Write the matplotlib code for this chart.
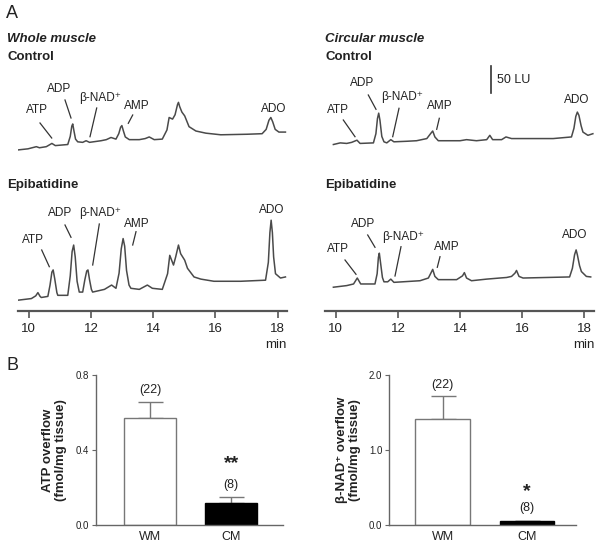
import numpy as np
import matplotlib
matplotlib.use("Agg")
from matplotlib import pyplot as plt
from matplotlib.lines import Line2D

plt.rcParams['font.family'] = ['Liberation Sans', 'DejaVu Sans']

# chromatogram traces: time (min) and fluorescence above trace start (LU)
lc_t = [9.65, 9.97, 10.24, 10.34, 10.56, 10.74, 10.85, 11.25, 11.33, 11.38, 11.41, 11.45,
        11.50, 11.57, 11.73, 11.84, 11.95, 12.32, 12.49, 12.64, 12.80, 12.89, 12.95, 12.99,
        13.04, 13.10, 13.23, 13.55, 13.74, 13.87, 14.03, 14.29, 14.44, 14.51, 14.62, 14.70,
        14.78, 14.81, 14.85, 14.92, 15.01, 15.15, 15.37, 15.69, 16.17, 17.02, 17.50, 17.63,
        17.72, 17.78, 17.84, 17.92, 18.04, 18.25]
lc_lu = [0, 2, 6, 4, 6, 12, 8, 10, 25, 44, 48, 35,
         20, 15, 14, 17, 14, 17, 19, 23, 20, 30, 42, 45,
         35, 24, 19, 19, 21, 24, 19, 20, 37, 60, 57, 65,
         84, 88, 80, 70, 63, 43, 35, 31, 28, 29, 30, 38,
         55, 60, 52, 38, 33, 33]

le_t = [9.65, 10.08, 10.22, 10.29, 10.36, 10.40, 10.61, 10.68, 10.74, 10.78, 10.83, 10.90,
        10.93, 11.25, 11.33, 11.39, 11.44, 11.49, 11.55, 11.62, 11.73, 11.80, 11.86, 11.90,
        11.95, 12.01, 12.05, 12.43, 12.66, 12.80, 12.90, 12.97, 13.03, 13.08, 13.14, 13.22,
        13.28, 13.55, 13.81, 13.97, 14.29, 14.46, 14.53, 14.65, 14.72, 14.81, 14.88, 15.01,
        15.10, 15.31, 15.53, 15.95, 16.81, 17.61, 17.70, 17.75, 17.79, 17.83, 17.87, 17.93,
        18.09, 18.25]
le_lu = [0, 3, 8, 14, 7, 5, 7, 28, 52, 56, 40, 14,
         9, 9, 45, 90, 102, 80, 35, 15, 15, 38, 54, 56,
         38, 20, 15, 20, 28, 22, 50, 95, 114, 100, 55, 28,
         22, 20, 28, 22, 20, 49, 83, 65, 80, 102, 86, 74,
         59, 43, 39, 35, 35, 37, 70, 125, 148, 125, 80, 49,
         41, 43]

rc_t = [9.92, 10.14, 10.35, 10.51, 10.68, 10.78, 11.21, 11.29, 11.34, 11.38, 11.42, 11.48,
        11.55, 11.64, 11.77, 11.87, 12.28, 12.60, 12.93, 13.05, 13.12, 13.19, 13.30, 14.00,
        14.21, 14.53, 14.86, 14.96, 15.05, 15.34, 15.48, 15.66, 17.00, 17.59, 17.67, 17.73,
        17.78, 17.83, 17.90, 17.96, 18.12, 18.28]
rc_lu = [0, 3, 2, 4, 8, 2, 3, 20, 48, 58, 45, 15,
         5, 3, 9, 5, 6, 7, 11, 20, 25, 14, 7, 7,
         9, 7, 9, 17, 9, 9, 14, 11, 11, 14, 30, 52,
         60, 54, 35, 23, 17, 20]

re_t = [9.92, 10.35, 10.57, 10.69, 10.80, 11.26, 11.33, 11.37, 11.40, 11.44, 11.50, 11.55,
        11.67, 11.77, 11.87, 12.71, 12.98, 13.06, 13.12, 13.19, 13.30, 13.89, 14.08, 14.14,
        14.21, 14.37, 14.86, 15.28, 15.50, 15.66, 15.77, 15.82, 15.90, 16.03, 17.53, 17.62,
        17.69, 17.74, 17.78, 17.85, 17.91, 18.07, 18.21]
re_lu = [0, 3, 6, 17, 6, 6, 25, 55, 63, 45, 18, 10,
         10, 15, 9, 12, 17, 26, 33, 20, 14, 14, 21, 27,
         17, 12, 15, 17, 18, 20, 26, 31, 20, 17, 19, 35,
         60, 69, 60, 40, 29, 20, 19]

time_ticks = [10, 12, 14, 16, 18]

# overflow bar data (mean, SEM, n)
groups = ["WM", "CM"]
atp_mean = [0.57, 0.12]
atp_sem = [0.085, 0.03]
nad_mean = [1.41, 0.05]
nad_sem = [0.31, 0.01]
n_labels = ["(22)", "(8)"]

W, H = 600, 547
fig = plt.figure(figsize=(6, 5.47), dpi=100)
TXT = '#222222'
GRAY = '#555555'
TRACE = '#4a4a4a'


def px(x, y):
    return x / W, 1 - y / H


def ftext(x, y, s, **kw):
    kw.setdefault('color', TXT)
    fig.text(*px(x, y), s, **kw)


def fline(x0, y0, x1, y1):
    a, b = px(x0, y0)
    c, d = px(x1, y1)
    fig.add_artist(Line2D([a, c], [b, d], color='#333333', lw=0.9))


LU_PER_PX = 1.85


def chrom_axes(left_px, width_px):
    ax = fig.add_axes([left_px / W, (H - 311) / H, width_px / W, 251 / H])
    ax.set_xlim(9.65, 18.3)
    ax.set_ylim(0, 251 * LU_PER_PX)
    for s in ['top', 'left', 'right']:
        ax.spines[s].set_visible(False)
    ax.spines['bottom'].set_color(GRAY)
    ax.spines['bottom'].set_linewidth(1.6)
    ax.set_yticks([])
    ax.set_xticks(time_ticks)
    ax.tick_params(axis='x', direction='out', length=5, width=1.2, color=GRAY,
                   labelsize=9.5, labelcolor=TXT, pad=4)
    ax.patch.set_alpha(0)
    return ax


axl = chrom_axes(18, 269)
axl.plot(lc_t, np.array(lc_lu) + 298, color=TRACE, lw=1.1)
axl.plot(le_t, np.array(le_lu) + 20, color=TRACE, lw=1.1)

axr = chrom_axes(325, 268.5)
axr.plot(rc_t, np.array(rc_lu) + 308, color=TRACE, lw=1.1)
axr.plot(re_t, np.array(re_lu) + 44, color=TRACE, lw=1.1)
# 50 LU scale bar
axr.plot([15.0, 15.0], [403, 453], color='#333333', lw=1.2, clip_on=False)
ftext(497, 80, "50 LU", fontsize=9, ha='left', va='center')

ftext(287, 345, "min", fontsize=9.5, ha='right', va='center')
ftext(595, 345, "min", fontsize=9.5, ha='right', va='center')

# panel headers
ftext(6, 14, "A", fontsize=13, ha='left', va='center')
ftext(6, 366, "B", fontsize=13, ha='left', va='center')
ftext(7, 39, "Whole muscle", fontsize=9.5, weight='bold', style='italic', ha='left', va='center')
ftext(7, 57, "Control", fontsize=9.5, weight='bold', ha='left', va='center')
ftext(325, 39, "Circular muscle", fontsize=9.5, weight='bold', style='italic', ha='left', va='center')
ftext(325, 57, "Control", fontsize=9.5, weight='bold', ha='left', va='center')
ftext(7, 185, "Epibatidine", fontsize=9.5, weight='bold', ha='left', va='center')
ftext(325, 185, "Epibatidine", fontsize=9.5, weight='bold', ha='left', va='center')

NAD = "β-NAD⁺"
peak_labels = [
    ("ATP", (36.7, 110), (40, 123), (51.7, 138)),
    ("ADP", (59, 89), (65, 100), (71, 118)),
    (NAD, (100, 98), (96.7, 108), (90, 136.7)),
    ("AMP", (136.7, 106), (132.7, 115), (128.3, 123.3)),
    ("ADO", (273.3, 109), None, None),
    ("ATP", (33.3, 240), (41.7, 250), (49.3, 266.7)),
    ("ADP", (60, 212.7), (65, 225), (71, 237.3)),
    (NAD, (100, 213.3), (99.3, 224), (92.7, 265)),
    ("AMP", (136.7, 224), (136, 231.7), (132.7, 245)),
    ("ADO", (271.7, 210), None, None),
    ("ATP", (338.3, 110), (343.3, 120), (355, 136.7)),
    ("ADP", (362.3, 83.3), (368.3, 95), (376, 109.3)),
    (NAD, (401.7, 96.7), (399, 108.3), (392.7, 136.7)),
    ("AMP", (440, 106), (439.3, 118.3), (436.7, 129.3)),
    ("ADO", (576.7, 100), None, None),
    ("ATP", (338.3, 249.3), (345, 260), (356, 274.3)),
    ("ADP", (363.3, 224), (367.7, 235), (375, 247.3)),
    (NAD, (403.3, 237.3), (401, 246.7), (395, 276)),
    ("AMP", (446.7, 246.7), (440, 256.7), (437.3, 267.3)),
    ("ADO", (575, 235), None, None),
]
for lab, (tx, ty), p0, p1 in peak_labels:
    ftext(tx, ty, lab, fontsize=8.5, ha='center', va='center')
    if p0 is not None:
        fline(p0[0], p0[1], p1[0], p1[1])


def bar_axes(left_px, width_px, means, sems, ymax, yticks, ylabel, star, n_pos, star_pos, xlim):
    ax = fig.add_axes([left_px / W, (H - 525) / H, width_px / W, 150 / H])
    x = np.arange(len(groups))
    ax.bar(x, means, width=0.65, color=['white', 'black'], edgecolor=['#777777', 'black'],
           linewidth=1.0, zorder=2)
    ax.errorbar(x, means, yerr=[[0, 0], sems], fmt='none', ecolor='#777777',
                elinewidth=1.0, capsize=9, capthick=1.0, zorder=1)
    ax.set_xlim(*xlim)
    ax.set_ylim(0, ymax)
    ax.set_yticks(yticks)
    ax.set_yticklabels([f"{v:.1f}" for v in yticks])
    ax.set_xticks(x)
    ax.set_xticklabels(groups)
    for s in ['top', 'right']:
        ax.spines[s].set_visible(False)
    for s in ['left', 'bottom']:
        ax.spines[s].set_color('#666666')
        ax.spines[s].set_linewidth(1.0)
    ax.tick_params(axis='y', direction='out', length=3, width=0.8, color='#666666',
                   labelsize=7, labelcolor=TXT, pad=2)
    ax.tick_params(axis='x', length=0, labelsize=9, labelcolor=TXT, pad=4)
    ax.set_ylabel(ylabel, fontsize=9.5, weight='bold', color=TXT, labelpad=6, linespacing=1.1)
    for i in range(len(groups)):
        ax.text(x[i], n_pos[i], n_labels[i], fontsize=9, ha='center', va='center', color=TXT)
    ax.text(x[1], star_pos, star, fontsize=14, ha='center', va='center', color=TXT, weight='bold')
    ax.patch.set_alpha(0)
    return ax


bar_axes(96, 187, atp_mean, atp_sem, 0.8, [0.0, 0.4, 0.8],
         "ATP overflow\n(fmol/mg tissue)", "**", [0.72, 0.213], 0.33, (-0.667, 1.64))
bar_axes(389.3, 186.7, nad_mean, nad_sem, 2.0, [0.0, 1.0, 2.0],
         "β-NAD⁺ overflow\n(fmol/mg tissue)", "*", [1.87, 0.227], 0.45, (-0.63, 1.58))

fig.savefig("out.png", dpi=100)
